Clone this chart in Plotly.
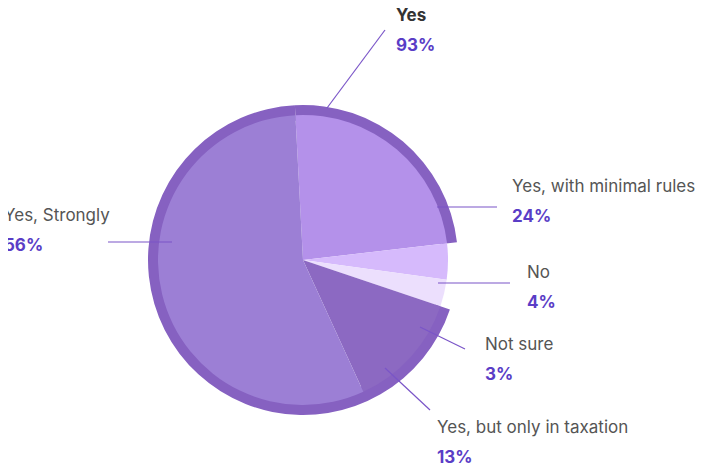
import plotly.graph_objects as go

labels = ["Yes, with minimal rules", "No", "Not sure", "Yes, but only in taxation", "Yes, Strongly"]
values = [24, 4, 3, 13, 56]
colors = ["#b491ea", "#d6bafc", "#ecdffd", "#8c69c2", "#9c7fd5"]
ring_values = [24, 7, 69]
ring_colors = ["#8661c1", "rgba(0,0,0,0)", "#8661c1"]
group_label, group_pct = "Yes", "93%"

W, H = 725, 470
OFF = 8
def px(x): return (x - OFF) / W
def py(y): return 1 - (y - OFF) / H

fig = go.Figure()
fig.add_trace(go.Pie(values=ring_values, marker=dict(colors=ring_colors, line=dict(width=0)),
                     hole=0.9, sort=False, direction="clockwise", rotation=-3,
                     textinfo="none", hoverinfo="skip", showlegend=False,
                     domain=dict(x=[px(148), px(458)], y=[py(415), py(105)])))
fig.add_trace(go.Pie(labels=labels, values=values, marker=dict(colors=colors, line=dict(width=0)),
                     sort=False, direction="clockwise", rotation=-3,
                     textinfo="none", showlegend=False,
                     domain=dict(x=[px(158), px(448)], y=[py(405), py(115)])))

lines = [((385, 30), (327, 108)), ((437, 207), (497, 207)), ((438, 283), (510, 283)),
         ((420, 327), (465, 349)), ((385, 368), (430, 410)), ((108, 242), (172, 242))]
shapes = [dict(type="line", xref="paper", yref="paper", x0=px(a[0]), y0=py(a[1]),
               x1=px(b[0]), y1=py(b[1]), line=dict(color="#7a55c8", width=1.2)) for a, b in lines]

gray, purple = "#555555", "#5a3dc6"
ann = []
def lab(x, y, t, pct, anchor="left", bold=False):
    ann.append(dict(x=px(x), y=py(y), xref="paper", yref="paper", xanchor=anchor, yanchor="middle",
                    text=("<b>%s</b>" % t) if bold else t, showarrow=False,
                    font=dict(size=17, color="#333" if bold else gray, family="Inter")))
    ann.append(dict(x=px(x), y=py(y + 30), xref="paper", yref="paper", xanchor=anchor, yanchor="middle",
                    text="<b>%s</b>" % pct, showarrow=False,
                    font=dict(size=17, color=purple, family="Inter")))

lab(394, 15, group_label, group_pct, bold=True)
lab(510, 186, labels[0], "24%")
lab(525, 272, labels[1], "4%")
lab(483, 344, labels[2], "3%")
lab(435, 427, labels[3], "13%")
lab(2, 215, labels[4], "56%")

fig.update_layout(width=W, height=H, margin=dict(l=0, r=0, t=0, b=0),
                  paper_bgcolor="white", plot_bgcolor="white",
                  shapes=shapes, annotations=ann)
fig.write_html("out.html")
